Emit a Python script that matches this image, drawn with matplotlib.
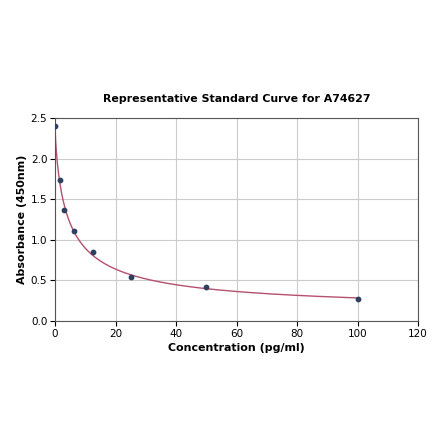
import matplotlib
matplotlib.use('Agg')
import matplotlib.pyplot as plt
import numpy as np

# Standard points
conc = [0, 1.56, 3.125, 6.25, 12.5, 25, 50, 100]
absorb = [2.40, 1.74, 1.37, 1.11, 0.85, 0.54, 0.42, 0.27]

x = np.array(conc)
y = np.array(absorb)


# 4PL fit: grid over slope/midpoint, linear solve for top/bottom
def fit_4pl(x, y):
    best = None
    for b in np.linspace(0.3, 2.0, 86):
        for c in np.logspace(-1, 2.5, 141):
            g = 1 / (1 + (x / c) ** b)
            A = np.column_stack([g, 1 - g])
            coef, *_ = np.linalg.lstsq(A, y, rcond=None)
            err = np.sum((A @ coef - y) ** 2)
            if best is None or err < best[0]:
                best = (err, coef[0], b, c, coef[1])
    return best[1:]


a, b, c, d = fit_4pl(x, y)
xs = np.linspace(0, 100, 500)
ys = d + (a - d) / (1 + (xs / c) ** b)

fig = plt.figure(figsize=(4.4, 4.41), dpi=100)
ax = fig.add_axes([0.125, 0.272, 0.825, 0.46])
ax.grid(color='#cccccc', linewidth=0.8)
ax.set_axisbelow(True)
ax.plot(xs, ys, color='#b5506e', linewidth=1.0)
ax.scatter(x, y, color='#2e3f60', s=10, zorder=3)
ax.set_xlim(0, 120)
ax.set_ylim(0, 2.5)
ax.set_xticks([0, 20, 40, 60, 80, 100, 120])
ax.set_yticks([0.0, 0.5, 1.0, 1.5, 2.0, 2.5])
ax.tick_params(labelsize=7.5, pad=2)
for s in ax.spines.values():
    s.set_color('#555555')
ax.set_title('Representative Standard Curve for A74627', fontsize=7.9, fontweight='bold', pad=12)
ax.set_xlabel('Concentration (pg/ml)', fontsize=7.9, fontweight='bold', labelpad=3)
ax.set_ylabel('Absorbance (450nm)', fontsize=7.9, fontweight='bold', labelpad=3)
fig.savefig('out.png', dpi=100)
